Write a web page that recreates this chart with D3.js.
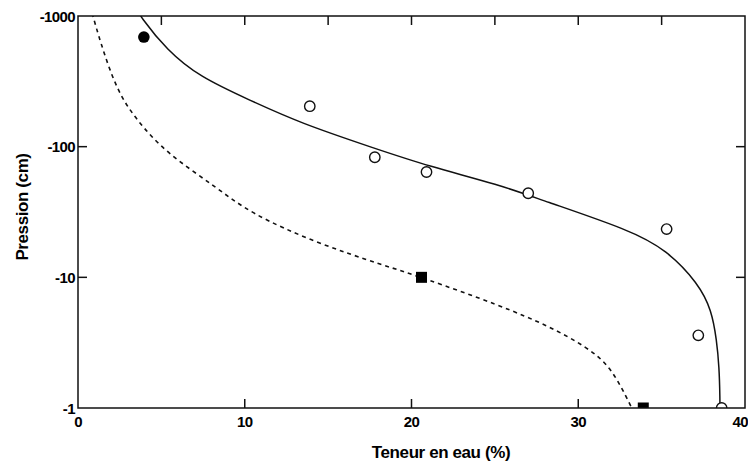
<!DOCTYPE html>
<html>
<head>
<meta charset="utf-8">
<script src="https://cdn.jsdelivr.net/npm/d3@7"></script>
<style>
  html, body { margin: 0; padding: 0; background: #fff; }
  svg { display: block; }
  text { font-family: "Liberation Sans", Arial, sans-serif; font-weight: bold; fill: #000; }
</style>
</head>
<body>
<svg id="chart" width="748" height="465"></svg>
<script>
// ---- data ----
const xTicks = [0, 10, 20, 30, 40];
const xTopTicks = [5, 10, 15, 20, 25, 30, 35];
const yTicks = [1, 10, 100, 1000];

// open circles (measured)
const obsTheta = [13.9, 17.8, 20.9, 27.0, 35.3, 37.2, 38.6];
const obsH     = [204, 83, 64, 44, 23.4, 3.6, 1];

// filled circle
const dotTheta = [3.95];
const dotH     = [690];

// filled squares
const sqTheta = [20.6, 33.9];
const sqH     = [10, 1];

// solid fitted curve
const solidTheta = [3.4, 3.71, 5.33, 7.31, 10.3, 13.3, 17.8, 21.0, 25.3, 27.8, 33.1, 35.3, 37.2, 38.0, 38.3, 38.45, 38.5, 38.5];
const solidH     = [1200, 1000, 548, 341, 227, 152, 97, 71, 51, 39, 23, 16.2, 9.0, 5.6, 3.3, 2.06, 1.2, 0.8];

// dashed curve
const dashTheta = [0.7, 0.9, 1.3, 2.3, 3.5, 5.3, 8.3, 10.3, 14.3, 18.3, 20.6, 25.3, 28.3, 30.5, 32.0, 33.2, 33.5];
const dashH     = [1200, 1000, 656, 272, 160, 89, 49, 31, 18.3, 12.4, 10, 6.1, 4.2, 2.93, 2.06, 1, 0.85];

// ---- layout ----
const svg = d3.select("#chart");
const W = 748, H = 465;
const m = { left: 78, right: 3, top: 16, bottom: 57 };
const x = d3.scaleLinear().domain([0, 40]).range([m.left, W - m.right]);
const y = d3.scaleLog().domain([1, 1000]).range([H - m.bottom, m.top]);

svg.append("defs").append("clipPath").attr("id", "plotclip")
  .append("rect")
  .attr("x", x(0)).attr("y", y(1000))
  .attr("width", x(40) - x(0)).attr("height", y(1) - y(1000));

const plot = svg.append("g").attr("clip-path", "url(#plotclip)");

// curves
const line = d3.line().x(d => x(d[0])).y(d => y(d[1])).curve(d3.curveBasis);
plot.append("path")
  .datum(solidTheta.map((t, i) => [t, solidH[i]]))
  .attr("d", line).attr("fill", "none").attr("stroke", "#111").attr("stroke-width", 1.5);
plot.append("path")
  .datum(dashTheta.map((t, i) => [t, dashH[i]]))
  .attr("d", line).attr("fill", "none").attr("stroke", "#111").attr("stroke-width", 1.6)
  .attr("stroke-dasharray", "4,4");

// markers
plot.selectAll("circle.obs").data(obsTheta.map((t, i) => [t, obsH[i]])).enter()
  .append("circle").attr("class", "obs")
  .attr("cx", d => x(d[0])).attr("cy", d => y(d[1])).attr("r", 5.2)
  .attr("fill", "#fff").attr("stroke", "#111").attr("stroke-width", 1.4);
plot.selectAll("circle.dot").data(dotTheta.map((t, i) => [t, dotH[i]])).enter()
  .append("circle").attr("class", "dot")
  .attr("cx", d => x(d[0])).attr("cy", d => y(d[1])).attr("r", 5.8)
  .attr("fill", "#000");
const sq = 11;
plot.selectAll("rect.sq").data(sqTheta.map((t, i) => [t, sqH[i]])).enter()
  .append("rect").attr("class", "sq")
  .attr("x", d => x(d[0]) - sq / 2).attr("y", d => y(d[1]) - sq / 2)
  .attr("width", sq).attr("height", sq).attr("fill", "#000");

// frame
svg.append("rect")
  .attr("x", x(0)).attr("y", y(1000))
  .attr("width", x(40) - x(0)).attr("height", y(1) - y(1000))
  .attr("fill", "none").attr("stroke", "#111").attr("stroke-width", 1.5);

// ticks
const tk = 9;
const ticks = svg.append("g").attr("stroke", "#111").attr("stroke-width", 1.5);
ticks.selectAll("line.bx").data(xTicks.slice(1, -1)).enter().append("line")
  .attr("x1", d => x(d)).attr("x2", d => x(d)).attr("y1", y(1)).attr("y2", y(1) - tk);
ticks.selectAll("line.tx").data(xTopTicks).enter().append("line")
  .attr("x1", d => x(d)).attr("x2", d => x(d)).attr("y1", y(1000)).attr("y2", y(1000) + tk);
ticks.selectAll("line.ly").data(yTicks.slice(1, -1)).enter().append("line")
  .attr("x1", x(0)).attr("x2", x(0) + tk).attr("y1", d => y(d)).attr("y2", d => y(d));
ticks.selectAll("line.ry").data(yTicks.slice(1, -1)).enter().append("line")
  .attr("x1", x(40)).attr("x2", x(40) - tk).attr("y1", d => y(d)).attr("y2", d => y(d));

// tick labels
svg.selectAll("text.xl").data(xTicks).enter().append("text")
  .attr("x", d => x(d)).attr("y", y(1) + 19)
  .attr("text-anchor", d => d === 40 ? "end" : "middle")
  .attr("dx", d => d === 40 ? 3 : 0)
  .attr("font-size", 15).attr("letter-spacing", -0.6)
  .text(d => d);
svg.selectAll("text.yl").data(yTicks).enter().append("text")
  .attr("x", x(0) - 3).attr("y", d => y(d) + 5.5)
  .attr("text-anchor", "end").attr("font-size", 15).attr("letter-spacing", -0.6)
  .text(d => "-" + d);

// axis titles
svg.append("text")
  .attr("x", 441).attr("y", 458)
  .attr("text-anchor", "middle").attr("font-size", 17).attr("letter-spacing", -0.4)
  .text("Teneur en eau (%)");
svg.append("text")
  .attr("transform", "translate(28,207) rotate(-90)")
  .attr("text-anchor", "middle").attr("font-size", 17).attr("letter-spacing", -0.4)
  .text("Pression (cm)");
</script>
</body>
</html>
